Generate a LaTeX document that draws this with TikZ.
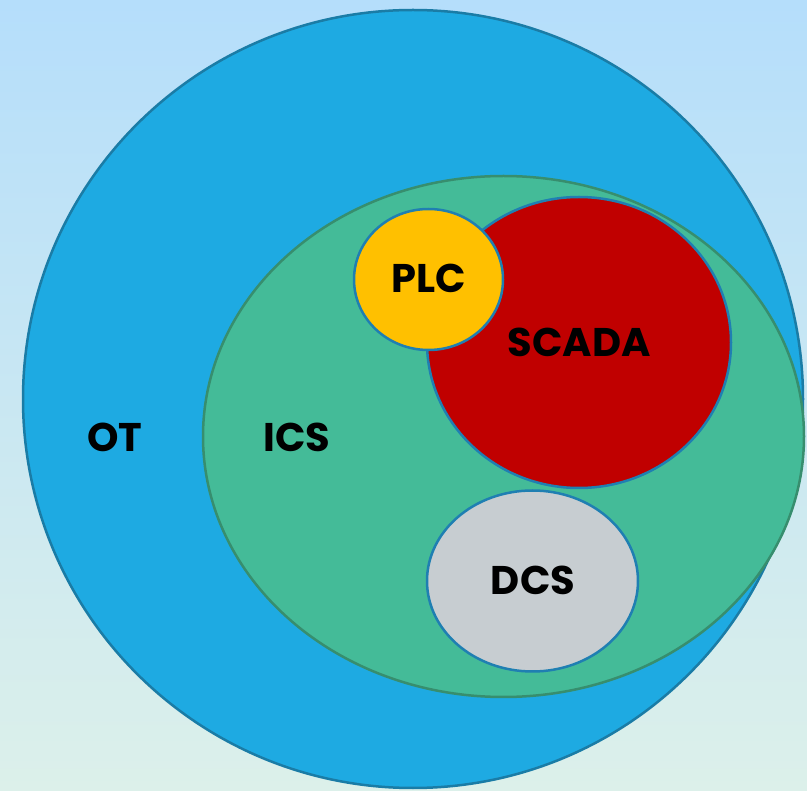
\documentclass[tikz,border=0pt]{standalone}
\usepackage{fontspec}
\setmainfont{Poppins}
\usepackage{tikz}

\definecolor{otblue}{HTML}{1EAAE2}
\definecolor{otline}{HTML}{1A7CA6}
\definecolor{icsgreen}{HTML}{44BB98}
\definecolor{icsline}{HTML}{378E6E}
\definecolor{scadared}{HTML}{C00000}
\definecolor{plcyellow}{HTML}{FFC000}
\definecolor{dcsgray}{HTML}{C7CDD1}
\definecolor{innerline}{HTML}{1F7FB2}
\definecolor{bgtop}{HTML}{B5DEFB}
\definecolor{bgbottom}{HTML}{DCF0EA}

\tikzset{
  setlabel/.style={font=\fontsize{40}{48}\selectfont\bfseries, text=black, inner sep=0pt},
  inner set/.style={draw=innerline, line width=2.5pt}
}

\begin{document}
\begin{tikzpicture}[x=1pt,y=-1pt]
        \useasboundingbox (0,0) rectangle (807,791);
        \shade[top color=bgtop,bottom color=bgbottom] (0,0) rectangle (807,791);
        \draw[fill=otblue,draw=otline,line width=2.5pt] (413,399) ellipse [x radius=390,y radius=389];
        \draw[fill=icsgreen,draw=icsline,line width=2.5pt] (503.5,436.5) ellipse [x radius=300.5,y radius=260.5];
        \draw[inner set,fill=dcsgray] (532.5,581) ellipse [x radius=105.5,y radius=90.5];
        \draw[inner set,fill=scadared] (579,342.5) ellipse [x radius=152,y radius=145.5];
        \draw[inner set,fill=plcyellow] (428.5,279.5) ellipse [x radius=74.5,y radius=70.5];
        \node[setlabel] (ot) at (115,437) {OT};
        \node[setlabel] (ics) at (297,437) {ICS};
        \node[setlabel] (plc) at (429,278) {PLC};
        \node[setlabel] (scada) at (579,342) {SCADA};
        \node[setlabel] (dcs) at (533,580) {DCS};
      \end{tikzpicture}
\end{document}
